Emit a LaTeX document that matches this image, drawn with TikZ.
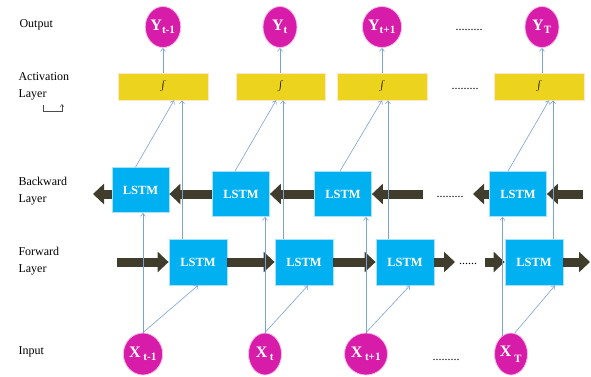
\documentclass[tikz,border=0pt]{standalone}
\usepackage{fontspec}
\setmainfont{Liberation Serif}
\usetikzlibrary{shapes.geometric,arrows.meta}
\definecolor{lstmblue}{RGB}{0,176,240}
\definecolor{unitpink}{RGB}{214,28,168}
\definecolor{actyellow}{RGB}{236,212,30}
\definecolor{fatgray}{RGB}{64,61,44}
\definecolor{linkblue}{RGB}{122,162,212}
\tikzset{
    lstm/.style={rectangle, fill=lstmblue, draw=lstmblue!35, line width=0.8pt,
        minimum width=57pt, minimum height=45pt, inner sep=0pt,
        text=white, font=\bfseries\fontsize{12.5}{14}\selectfont},
    act/.style={rectangle, fill=actyellow, draw=orange!20, line width=0.8pt,
        minimum width=90pt, minimum height=27pt, inner sep=0pt},
    unit/.style={ellipse, fill=unitpink, draw=unitpink!30, line width=0.8pt,
        minimum width=34pt, minimum height=41pt, inner sep=0pt,
        text=white, font=\bfseries\fontsize{16}{18}\selectfont},
    fat/.style={draw=fatgray, line width=9pt, -{Triangle[length=11pt,width=20pt]}},
    link/.style={draw=linkblue, line width=0.6pt, -{Straight Barb[length=3pt,width=5pt]}},
    lbl/.style={anchor=west, align=left, font=\fontsize{12}{17}\selectfont},
    gap/.style={font=\fontsize{12}{14}\selectfont}
}

\begin{document}
\begin{tikzpicture}[x=1pt, y=-1pt]
    \useasboundingbox (0,0) rectangle (591,376);
    % layer names
    \node[lbl] (lOut) at (16,25) {Output};
    \node[lbl] (lAct) at (15,86) {Activation\\Layer};
    \node[lbl] (lBack) at (15,191.5) {Backward\\Layer};
    \node[lbl] (lFor) at (15,261.5) {Forward\\Layer};
    \node[lbl] (lIn) at (15,352) {Input};
    \draw[gray!60!black, line width=0.5pt, -{Straight Barb[length=2.5pt,width=4pt]}]
        (43,105) -- (43,111) -- (62,111) -- (62,104);
    % outputs
    \node[unit] (Y1) at (163,27) {Y\textsubscript{t-1}};
    \node[unit] (Y2) at (280,27) {Y\textsubscript{t}};
    \node[unit] (Y3) at (382,27) {Y\textsubscript{t+1}};
    \node[unit] (Y4) at (542,27) {Y\textsubscript{T}};
    \node[gap] (dY) at (469,30) {.........};
    % activation
    \node[act] (A1) at (163,86.5) {$\int$};
    \node[act, minimum width=89pt] (A2) at (280.5,86.5) {$\int$};
    \node[act] (A3) at (382,86.5) {$\int$};
    \node[act] (A4) at (539,86.5) {$\int$};
    \node[gap] (dA) at (465,89) {.........};
    % backward
    \node[lstm] (B1) at (140.5,190) {LSTM};
    \node[lstm] (B2) at (241,194) {LSTM};
    \node[lstm] (B3) at (343,194) {LSTM};
    \node[lstm] (B4) at (518,194) {LSTM};
    \node[gap] (dB) at (450,197) {.........};
    % forward
    \node[lstm, minimum width=58pt, minimum height=46pt] (F1) at (198,262) {LSTM};
    \node[lstm, minimum width=58pt, minimum height=46pt] (F2) at (304,262) {LSTM};
    \node[lstm, minimum width=58pt, minimum height=46pt] (F3) at (405,262) {LSTM};
    \node[lstm, minimum width=58pt, minimum height=46pt] (F4) at (534,262) {LSTM};
    \node[gap] (dF) at (468,264) {......};
    % inputs
    \node[unit, minimum width=33pt, minimum height=42pt] (X1) at (143,354) {X\,\textsubscript{t-1}};
    \node[unit, minimum width=33pt, minimum height=42pt] (X2) at (265,354) {X\,\textsubscript{t}};
    \node[unit, minimum width=33pt, minimum height=42pt] (X3) at (366,354) {X\,\textsubscript{t+1}};
    \node[unit, minimum width=33pt, minimum height=42pt] (X4) at (511,354) {X\,\raisebox{-3pt}{\textsubscript{T}}};
    \node[gap] (dX) at (446,360) {.........};
    % free ends of the fat arrows
    \coordinate (bL) at (93,194);
    \coordinate (bM) at (423,194);
    \coordinate (bN) at (473,194);
    \coordinate (bR) at (583,194);
    \coordinate (fL) at (117,262);
    \coordinate (fM) at (455,262);
    \coordinate (fN) at (485,262);
    \coordinate (fR) at (590,262);
    % backward chain
    \draw[fat] (B1.west |- bL) -- (bL);
    \draw[fat] (B2.west) -- (B2.west -| B1.east);
    \draw[fat] (B3.west) -- (B2.east);
    \draw[fat] (bM) -- (B3.east);
    \draw[fat] (B4.west) -- (bN);
    \draw[fat] (bR) -- (B4.east);
    % forward chain
    \draw[fat] (fL) -- (F1.west);
    \draw[fat] (F1.east) -- (F2.west);
    \draw[fat] (F2.east) -- (F3.west);
    \draw[fat] (F3.east) -- (fM);
    \draw[fat] (fN) -- (F4.west);
    \draw[fat] (F4.east) -- (fR);
    % activation to output
    \draw[link] (A1.north) -- (Y1.south);
    \draw[link] (A2.north -| Y2) -- (Y2.south);
    \draw[link] (A3.north) -- (Y3.south);
    \draw[link] (A4.north -| Y4) -- (Y4.south);
    % backward to activation
    \draw[link] ([xshift=-5pt]B1.north) -- ([xshift=11pt]A1.south);
    \draw[link] ([xshift=-6pt]B2.north) -- ([xshift=-4.5pt]A2.south);
    \draw[link] ([xshift=-3pt]B3.north) -- (A3.south);
    \draw[link] ([xshift=-10pt]B4.north) -- ([xshift=10pt]A4.south);
    % forward to activation
    \draw[link] ([xshift=-16pt]F1.north) -- ([xshift=-16pt]F1.north |- A1.south);
    \draw[link] ([xshift=-21pt]F2.north) -- ([xshift=-21pt]F2.north |- A2.south);
    \draw[link] ([xshift=-17pt]F3.north) -- ([xshift=-17pt]F3.north |- A3.south);
    \draw[link] ([xshift=19pt]F4.north) -- ([xshift=19pt]F4.north |- A4.south);
    % input to backward
    \draw[link] (X1.north) -- (X1.north |- B1.south);
    \draw[link] (X2.north) -- (X2.north |- B2.south);
    \draw[link] (X3.north) -- (X3.north |- B3.south);
    \draw[link] (X4.115) -- (X4.115 |- B4.south);
    % input to forward
    \draw[link] (X1.north) -- (F1.south);
    \draw[link] (X2.north) -- ([xshift=4pt]F2.south);
    \draw[link] (X3.north) -- ([xshift=5pt]F3.south);
    \draw[link] (X4.80) -- ([xshift=21pt]F4.south);
\end{tikzpicture}
\end{document}
